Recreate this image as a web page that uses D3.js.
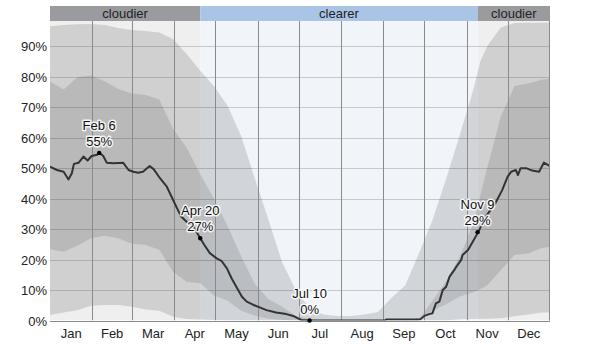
<!DOCTYPE html>
<html>
<head>
<meta charset="utf-8">
<script src="https://cdnjs.cloudflare.com/ajax/libs/d3/7.8.5/d3.min.js"></script>
<style>
  body { margin: 0; background: #fff; }
  svg { display: block; font-family: "Liberation Sans", Arial, sans-serif; }
</style>
</head>
<body>
<svg id="chart" width="600" height="344"></svg>
<script>
// days since Jan 1 (leap year), percent cloud cover
const bandDays = [0, 10, 20, 30, 40, 50, 60, 70, 80, 90, 100, 110, 120, 130, 140, 150, 160, 170, 180,
                  190, 200, 210, 220, 230, 240, 250, 260, 270, 280, 290, 300, 310, 315, 320, 330, 340, 350, 360, 366];
const p90 = [96.6, 97, 97.2, 97.3, 97, 96, 95.3, 95, 94.5, 92.4, 87.5, 82, 77, 70.5, 60.5, 46.5, 33, 19, 10,
             4, 2, 1.5, 1.5, 2, 2.8, 7.5, 11.5, 22, 33, 46.5, 61, 76, 85, 90, 96.2, 97.6, 97.7, 97.7, 97.7];
const p75 = [78.4, 75.8, 79.8, 80.4, 78.5, 76, 74.5, 74, 72.5, 63, 56.8, 48, 40, 31, 21, 12, 7, 4.5, 1.5,
             0.5, 0, 0, 0, 0, 0, 0, 0.1, 0.5, 6.5, 13, 21, 32, 41, 50, 67, 77, 77.8, 79, 79.3];
const p25 = [23.4, 22.6, 24.5, 27, 27.8, 27, 25.2, 24.8, 23.2, 16, 12.7, 12.2, 8.2, 6.5, 3.2, 1.6, 0.6, 0.2, 0,
             0, 0, 0, 0, 0, 0, 0, 0, 0.8, 3.2, 5.3, 7.9, 9.3, 10.3, 11.5, 16.5, 21.5, 22, 23.8, 24.2];
const p10 = [1.8, 2.6, 3.4, 4.8, 5.1, 5.1, 4.5, 3.6, 3.2, 1.2, 0.5, 0.3, 0.2, 0, 0, 0, 0, 0, 0,
             0, 0, 0, 0, 0, 0, 0, 0, 0, 0, 0, 0.4, 0.5, 0.55, 0.6, 0.7, 1.4, 2, 2.6, 2.6];

const medianDays = [0, 5, 10, 13.5, 16, 17.5, 21, 24.5, 27.5, 30.5, 34.5, 36, 39, 41.5, 46.5, 53.5, 57.5, 61, 64.5,
                    68, 73, 76, 80.5, 85.5, 89, 92.5, 96, 100, 105, 110, 113, 117, 122, 125.5, 129.5, 133, 137, 140.5,
                    144, 149, 153.5, 158.5, 165.5, 173, 178, 181.5, 184, 190, 245, 246, 269, 271, 274, 277.5, 280,
                    282.5, 285, 287.5, 290, 292.5, 296, 297.5, 301, 302, 306, 313, 319, 326, 331, 335, 337.5,
                    341, 342.5, 344.5, 348.5, 353, 358, 361.5, 366];
const medianPct = [50.5, 49.4, 48.8, 46.3, 48.3, 51.4, 51.8, 53.8, 52.5, 54, 54.4, 55.1, 54, 51.8, 51.6, 51.8, 49.4, 48.8, 48.5,
                   48.8, 50.7, 49.6, 46.7, 43.9, 40.6, 37.3, 34.1, 32.4, 30.8, 27, 24.8, 22.1, 20.4, 19.6, 17.1, 13.8, 10.6, 7.8,
                   6.2, 5.1, 4.3, 3.4, 2.6, 2.1, 1.5, 0.7, 0.2, 0, 0, 0.3, 0.3, 0.4, 1.5, 2.1, 2.4,
                   5.6, 6.2, 10, 11.1, 14.4, 16.6, 17.7, 19.9, 21.5, 23.1, 28.6, 34.1, 38.5, 42.8, 47.2, 48.8,
                   49.4, 47.7, 50, 50, 49.2, 48.8, 51.8, 50.7];

const noteDays = [36, 110, 190, 313];
const noteNames = ["Feb 6", "Apr 20", "Jul 10", "Nov 9"];
const notePct = [55, 27, 0, 29];

const seasonStart = [0, 110, 313];
const seasonEnd = [110, 313, 366];
const seasonNames = ["cloudier", "clearer", "cloudier"];

const yTicks = [0, 10, 20, 30, 40, 50, 60, 70, 80, 90];

const plotL = 50, plotR = 550, plotT = 21, plotB = 320.5;

const svg = d3.select("#chart");

const x = d3.scaleLinear().domain([0, 366]).range([plotL, plotR]);
const xt = d3.scaleTime().domain([new Date(2020, 0, 1), new Date(2021, 0, 1)]).range([plotL, plotR]);
const y = d3.scaleLinear().domain([0, 100]).range([plotB, 15.8]);

svg.append("defs").append("clipPath").attr("id", "plot")
    .append("rect").attr("x", plotL).attr("y", plotT).attr("width", plotR - plotL).attr("height", plotB - plotT);

const plot = svg.append("g").attr("clip-path", "url(#plot)");

// season backgrounds
plot.selectAll(".bg")
    .data(seasonNames)
    .enter()
    .append("rect")
    .attr("x", (d, i) => x(seasonStart[i]))
    .attr("width", (d, i) => x(seasonEnd[i]) - x(seasonStart[i]))
    .attr("y", plotT)
    .attr("height", plotB - plotT)
    .attr("fill", d => d === "clearer" ? "#f1f5fa" : "#efefef");

// horizontal grid
plot.selectAll(".hgrid")
    .data(yTicks.slice(1))
    .enter()
    .append("line")
    .attr("x1", plotL).attr("x2", plotR)
    .attr("y1", d => Math.round(y(d)) + 0.5)
    .attr("y2", d => Math.round(y(d)) + 0.5)
    .attr("stroke", "#c5c8cd")
    .attr("stroke-width", 1);

// percentile bands
const band = (lo, hi) => d3.area()
    .x((d, i) => x(bandDays[i]))
    .y0((d, i) => y(lo[i]))
    .y1((d, i) => y(hi[i]));

plot.append("path")
    .attr("d", band(p10, p90)(bandDays))
    .attr("fill", "#000")
    .attr("fill-opacity", 0.13);

plot.append("path")
    .attr("d", band(p25, p75)(bandDays))
    .attr("fill", "#000")
    .attr("fill-opacity", 0.11);

// month lines
const months = xt.ticks(d3.timeMonth.every(1)).slice(1, 12);
plot.selectAll(".vgrid")
    .data(months)
    .enter()
    .append("line")
    .attr("x1", d => Math.round(xt(d)) + 0.5)
    .attr("x2", d => Math.round(xt(d)) + 0.5)
    .attr("y1", plotT).attr("y2", plotB)
    .attr("stroke", "#8a8a8a")
    .attr("stroke-width", 1);

// median line
const line = d3.line()
    .x((d, i) => x(medianDays[i]))
    .y((d, i) => y(d));

plot.append("path")
    .attr("d", line(medianPct))
    .attr("fill", "none")
    .attr("stroke", "#333")
    .attr("stroke-width", 2)
    .attr("stroke-linejoin", "round");

// frame
svg.append("line")
    .attr("x1", plotL).attr("x2", plotR)
    .attr("y1", Math.round(plotB) + 0.5).attr("y2", Math.round(plotB) + 0.5)
    .attr("stroke", "#8a8a8a");
svg.append("line")
    .attr("x1", plotR - 0.5).attr("x2", plotR - 0.5)
    .attr("y1", plotT).attr("y2", plotB)
    .attr("stroke", "#8a8a8a");

// header
const header = svg.append("g");
header.selectAll("rect")
    .data(seasonNames)
    .enter()
    .append("rect")
    .attr("x", (d, i) => x(seasonStart[i]))
    .attr("width", (d, i) => x(seasonEnd[i]) - x(seasonStart[i]))
    .attr("y", 6)
    .attr("height", plotT - 6)
    .attr("fill", d => d === "clearer" ? "#aac4e6" : "#9a9b9f");
header.selectAll("text")
    .data(seasonNames)
    .enter()
    .append("text")
    .attr("x", (d, i) => (x(seasonStart[i]) + x(seasonEnd[i])) / 2)
    .attr("y", 18)
    .attr("text-anchor", "middle")
    .attr("font-size", 13)
    .attr("fill", "#222")
    .text(d => d);

// y labels
svg.selectAll(".ylab")
    .data(yTicks)
    .enter()
    .append("text")
    .attr("x", 47)
    .attr("y", d => y(d) + 5)
    .attr("text-anchor", "end")
    .attr("font-size", 13)
    .attr("fill", "#222")
    .text(d => d + "%");

// month labels
svg.selectAll(".mlab")
    .data(xt.ticks(d3.timeMonth.every(1)).slice(0, 12))
    .enter()
    .append("text")
    .attr("x", d => (xt(d) + xt(d3.timeMonth.offset(d, 1))) / 2)
    .attr("y", 338)
    .attr("text-anchor", "middle")
    .attr("font-size", 13)
    .attr("fill", "#222")
    .text(d => d3.timeFormat("%b")(d));

// annotations
const notes = svg.append("g");
noteDays.forEach((d, i) => {
    const cx = x(d), cy = y(notePct[i]);
    notes.append("circle")
        .attr("cx", cx).attr("cy", cy).attr("r", 2.2)
        .attr("fill", "#000");
    [noteNames[i], notePct[i] + "%"].forEach((t, k) => {
        notes.append("text")
            .attr("x", cx)
            .attr("y", cy - 23 + k * 16)
            .attr("text-anchor", "middle")
            .attr("font-size", 13)
            .attr("fill", "#111")
            .attr("stroke", "#fff")
            .attr("stroke-width", 3)
            .attr("stroke-opacity", 0.85)
            .attr("stroke-linejoin", "round")
            .attr("paint-order", "stroke")
            .text(t);
    });
});
</script>
</body>
</html>
